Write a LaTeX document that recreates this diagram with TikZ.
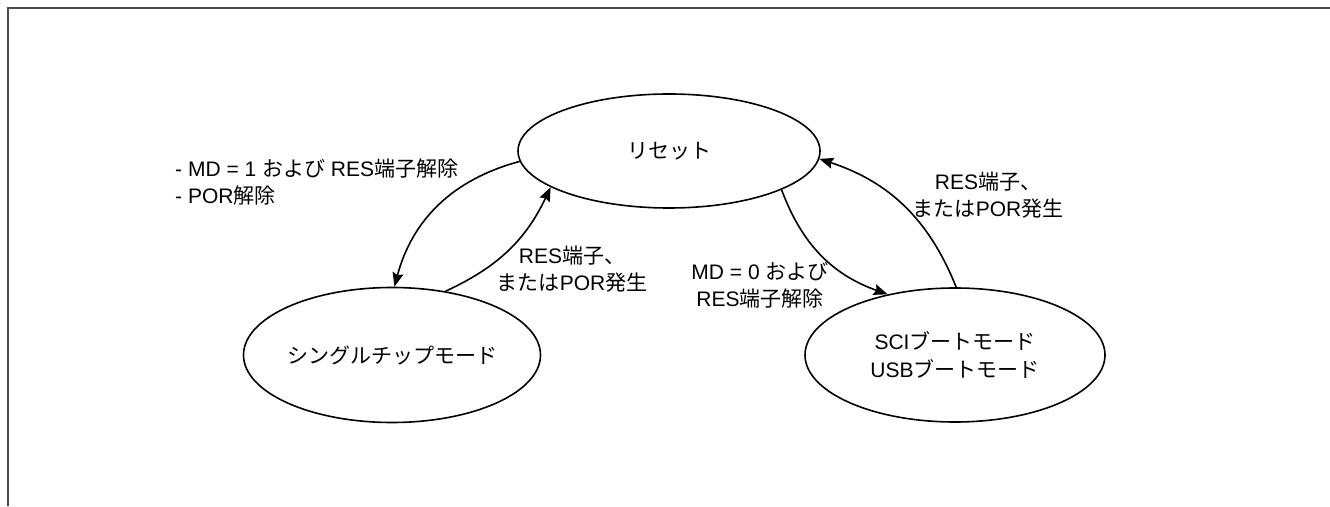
\documentclass[tikz,border=0pt]{standalone}
\usepackage{fontspec}
\setmainfont{Liberation Sans}
\newfontfamily\jp{Noto Sans CJK JP}
\usepackage{tikz}
\usetikzlibrary{shapes.geometric}
\usetikzlibrary{arrows.meta}
\tikzset{
   state/.style={
      ellipse, draw=black, line width=1.6pt, inner sep=0pt,
      align=center, font=\fontsize{21}{28}\selectfont},
   trans/.style={draw=black, line width=1.6pt,
      -{Stealth[length=14pt, width=11pt, inset=2pt]}},
   cond/.style={inner sep=0pt, font=\fontsize{21}{27}\selectfont},
   frame/.style={draw=black!70, line width=2.5pt},
    }
\begin{document}
\begin{tikzpicture}[x=1pt,y=1pt]
            \useasboundingbox (0,0) rectangle (1330,506);
            \draw[frame](8,0)--(8,498)--(1330,498);
            \node[state, minimum width=302pt, minimum height=114pt] (reset) at (669,355) {\jp リセット};
            \node[state, minimum width=296pt, minimum height=135pt] (single) at (392,151) {\jp シングルチップモード};
            \node[state, minimum width=300pt, minimum height=134pt] (boot) at (955,151)
               {SCI{\jp ブートモード}\\USB{\jp ブートモード}};
            \draw[trans](reset.184)to[bend right=30](single.88);
            \draw[trans](single.50)to[bend right=20](reset.197);
            \draw[trans](reset.341)to[bend right=25](boot.138);
            \draw[trans](boot.89)to[bend right=25](reset.357);
            \node[cond, anchor=west, align=left] (lblone) at (175,324)
               {- MD = 1 {\jp および} RES{\jp 端子解除}\\- POR{\jp 解除}};
            \node[cond, align=center] (lbltwo) at (572,237)
               {RES{\jp 端子、}\\{\jp または}POR{\jp 発生}};
            \node[cond, align=center] (lblzero) at (760,221)
               {MD = 0 {\jp および}\\RES{\jp 端子解除}};
            \node[cond, align=center] (lblthree) at (988,311)
               {RES{\jp 端子、}\\{\jp または}POR{\jp 発生}};
\end{tikzpicture}
\end{document}
